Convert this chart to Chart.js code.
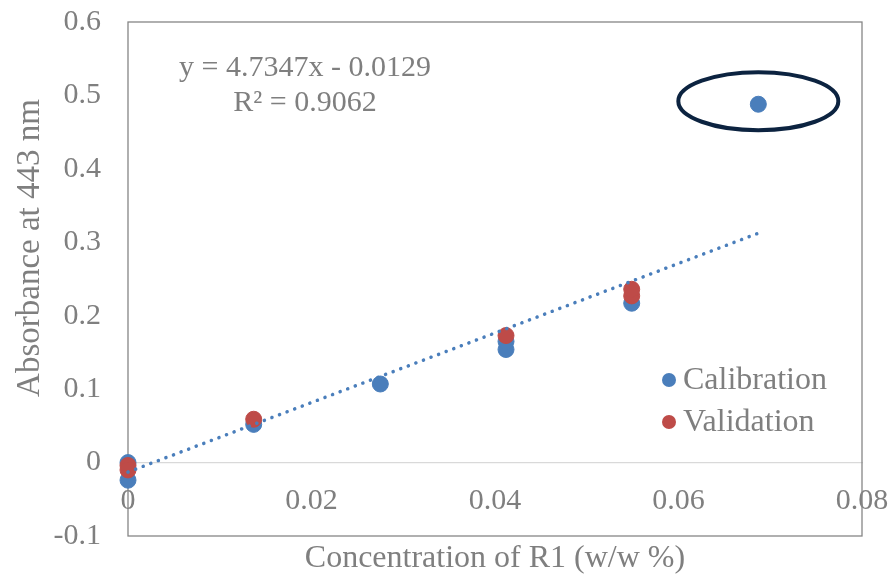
<!DOCTYPE html>
<html>
<head>
<meta charset="utf-8">
<script src="https://cdn.jsdelivr.net/npm/chart.js@4/dist/chart.umd.min.js"></script>
<style>
  html, body { margin: 0; padding: 0; background: #fff; }
  #wrap { width: 892px; height: 575px; }
</style>
</head>
<body>
<div id="wrap"><canvas id="calChart"></canvas></div>
<script>
// data
const calibX = [0, 0, 0.0137, 0.0275, 0.0412, 0.0412, 0.0549, 0.0687];
const calibY = [0, -0.024, 0.052, 0.107, 0.154, 0.165, 0.217, 0.488];
const validX = [0, 0, 0.0137, 0.0412, 0.0549, 0.0549];
const validY = [-0.004, -0.01, 0.059, 0.173, 0.227, 0.236];
const trendX = [0, 0.0687];
const trendY = [-0.0129, 0.3124];
const xTicks = [0, 0.02, 0.04, 0.06, 0.08];
const yTicks = [-0.1, 0, 0.1, 0.2, 0.3, 0.4, 0.5, 0.6];
const eqText = ['y = 4.7347x - 0.0129', 'R\u00b2 = 0.9062'];
const seriesNames = ['Calibration', 'Validation'];

const blue = '#4a7ebb';
const red = '#be4b48';
const grey = '#7f7f7f';
const serif = '"Liberation Serif", "Times New Roman", serif';

function toPoints(xs, ys) {
    return xs.map((x, i) => ({ x: x, y: ys[i] }));
}

// frame, titles, equation, legend and the ring round the outlier
const extras = {
    id: 'extras',
    beforeDatasetsDraw(chart) {
        const a = chart.chartArea;
        const c = chart.ctx;
        c.save();
        c.strokeStyle = '#868686';
        c.lineWidth = 1.3;
        c.strokeRect(a.left, a.top, a.right - a.left, a.bottom - a.top);
        c.restore();
    },
    afterDraw(chart) {
        const c = chart.ctx;
        const xs = chart.scales.x, ys = chart.scales.y;
        c.save();
        c.fillStyle = grey;
        c.textAlign = 'center';
        c.textBaseline = 'middle';
        c.font = '30px ' + serif;
        c.fillText(eqText[0], 305, 68);
        c.fillText(eqText[1], 305, 103);

        c.font = '32px ' + serif;
        c.fillText('Concentration of R1 (w/w %)', (chart.chartArea.left + chart.chartArea.right) / 2, 559);
        c.save();
        c.translate(30, 248);
        c.rotate(-Math.PI / 2);
        c.font = '33px ' + serif;
        c.fillText('Absorbance at 443 nm', 0, 0);
        c.restore();

        // legend
        const cols = [blue, red];
        c.textAlign = 'left';
        c.font = '32px ' + serif;
        seriesNames.forEach((name, i) => {
            const ly = 380 + i * 42;
            c.fillStyle = cols[i];
            c.beginPath();
            c.arc(669, ly, 7, 0, Math.PI * 2);
            c.fill();
            c.fillStyle = grey;
            c.fillText(name, 683, ly + 1);
        });

        // ellipse round the last calibration point
        const px = xs.getPixelForValue(calibX[calibX.length - 1]);
        const py = ys.getPixelForValue(calibY[calibY.length - 1]);
        c.strokeStyle = '#0c2340';
        c.lineWidth = 4;
        c.beginPath();
        c.ellipse(px, py - 3, 80, 29, 0, 0, Math.PI * 2);
        c.stroke();
        c.restore();
    }
};

const ctx = document.getElementById('calChart').getContext('2d');
const calChart = new Chart(ctx, {
    type: 'scatter',
    data: {
        datasets: [
            {
                type: 'line',
                label: 'trend',
                data: toPoints(trendX, trendY),
                borderColor: blue,
                borderWidth: 3.5,
                borderDash: [0.1, 8],
                borderCapStyle: 'round',
                pointRadius: 0,
                fill: false,
                clip: false,
                order: 0
            },
            {
                label: seriesNames[1],
                data: toPoints(validX, validY),
                backgroundColor: red,
                borderColor: red,
                pointRadius: 8,
                clip: false,
                order: 1
            },
            {
                label: seriesNames[0],
                data: toPoints(calibX, calibY),
                backgroundColor: blue,
                borderColor: blue,
                pointRadius: 8,
                clip: false,
                order: 2
            }
        ]
    },
    options: {
        responsive: true,
        maintainAspectRatio: false,
        animation: false,
        layout: { padding: { left: 0, top: 22, right: 30, bottom: 39 } },
        plugins: {
            legend: { display: false },
            tooltip: { enabled: false }
        },
        scales: {
            x: {
                type: 'linear',
                position: { y: 0 },
                min: 0,
                max: 0.08,
                afterBuildTicks: (scale) => { scale.ticks = xTicks.map(v => ({ value: v })); },
                afterFit: (scale) => { scale.paddingLeft = 0; scale.paddingRight = 0; },
                grid: { display: false },
                border: { display: true, color: '#d9d9d9', width: 1.3 },
                ticks: {
                    color: grey,
                    font: { family: serif, size: 30 },
                    padding: 13,
                    maxRotation: 0,
                    callback: (v) => String(+v.toFixed(2))
                }
            },
            y: {
                type: 'linear',
                min: -0.1,
                max: 0.6,
                afterBuildTicks: (scale) => { scale.ticks = yTicks.map(v => ({ value: v })); },
                afterFit: (scale) => { scale.width = 128; scale.paddingTop = 0; scale.paddingBottom = 0; },
                grid: { display: false },
                border: { display: false },
                ticks: {
                    color: grey,
                    font: { family: serif, size: 30 },
                    padding: 19,
                    callback: (v) => String(+v.toFixed(1))
                }
            }
        }
    },
    plugins: [extras]
});
</script>
</body>
</html>
